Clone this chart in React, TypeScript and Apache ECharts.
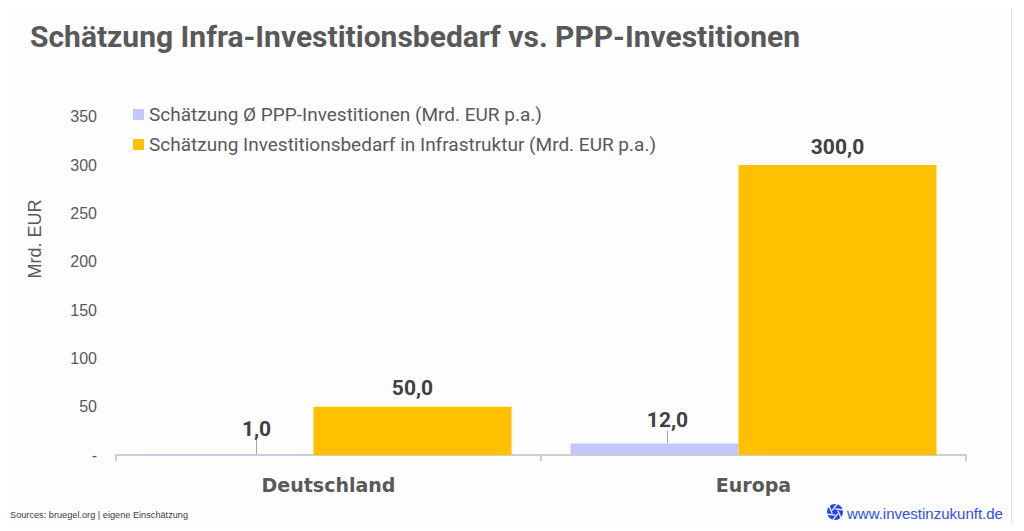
import React, { useEffect, useRef } from "react";
import * as echarts from "echarts";

const categories = ["Deutschland", "Europa"];
const pppValues = [1.0, 12.0];
const bedarfValues = [50.0, 300.0];
const yTicks = [0, 50, 100, 150, 200, 250, 300, 350];
const seriesNames = [
  "Schätzung Ø PPP-Investitionen (Mrd. EUR p.a.)",
  "Schätzung Investitionsbedarf in Infrastruktur (Mrd. EUR p.a.)",
];
const titleText = "Schätzung Infra-Investitionsbedarf vs. PPP-Investitionen";
const yAxisName = "Mrd. EUR";
const sourceText = "Sources: bruegel.org | eigene Einschätzung";
const siteText = "www.investinzukunft.de";

const fmt = (v: number) => v.toFixed(1).replace(".", ",");

// aperture icon path (centered at 0,0, radius 8)
function aperturePath(): string {
  const R = 8;
  const r = 3.2;
  let d = `M ${R} 0 A ${R} ${R} 0 1 1 ${-R} 0 A ${R} ${R} 0 1 1 ${R} 0 Z `;
  for (let i = 0; i < 6; i++) {
    const a = (Math.PI / 3) * i + Math.PI / 6;
    d += `${i === 0 ? "M" : "L"} ${(r * Math.cos(a)).toFixed(2)} ${(r * Math.sin(a)).toFixed(2)} `;
  }
  d += "Z ";
  return d;
}

export default function App() {
  const ref = useRef<HTMLDivElement>(null);
  useEffect(() => {
    if (!ref.current) return;
    try {
      echarts.graphic.registerShape("aperture", echarts.graphic.extendPath(aperturePath(), {}) as any);
    } catch (e) {}
    const chart = echarts.init(ref.current, undefined, { renderer: "svg" });
    const pppOffsets = [
      [27, -10],
      [13, -8],
    ];
    const bladeLines: any[] = [];
    for (let i = 0; i < 6; i++) {
      const a = (Math.PI / 3) * i + Math.PI / 6;
      const a2 = a + Math.PI / 2.4;
      bladeLines.push({
        type: "line",
        shape: {
          x1: 835 + 3.2 * Math.cos(a),
          y1: 512 + 3.2 * Math.sin(a),
          x2: 835 + 8.5 * Math.cos(a2),
          y2: 512 + 8.5 * Math.sin(a2),
        },
        style: { stroke: "#fdfdfd", lineWidth: 1.3 },
        z: 102,
      });
    }
    chart.setOption({
      animation: false,
      backgroundColor: "#ffffff",
      grid: { left: 116, right: 58, top: 116.7, bottom: 76, containLabel: false },
      legend: {
        orient: "vertical",
        left: 128,
        top: 100,
        itemWidth: 11,
        itemHeight: 11,
        itemGap: 11,
        icon: "rect",
        textStyle: { color: "#595959", fontSize: 19, fontFamily: "Roboto", lineHeight: 18 },
        data: seriesNames,
      },
      xAxis: {
        type: "category",
        data: categories,
        axisLine: { show: true, lineStyle: { color: "#bfbfbf", width: 1.5 } },
        axisTick: { show: true, length: 6, lineStyle: { color: "#bfbfbf", width: 1.5 } },
        axisLabel: {
          color: "#595959",
          fontSize: 19,
          fontWeight: "bold",
          fontFamily: "'DejaVu Sans', sans-serif",
          margin: 20,
        },
      },
      yAxis: {
        type: "value",
        min: 0,
        max: 350,
        interval: 50,
        axisLine: { show: false },
        axisTick: { show: false },
        splitLine: { show: false },
        axisLabel: {
          color: "#595959",
          fontSize: 16,
          fontFamily: "'Liberation Sans', Arial, sans-serif",
          margin: 19,
          formatter: (v: number) => (yTicks.includes(v) ? (v === 0 ? "-" : String(v)) : ""),
        },
      },
      series: [
        {
          name: seriesNames[0],
          type: "bar",
          data: pppValues,
          barWidth: 168,
          barGap: "0%",
          itemStyle: { color: "#c3c8fb" },
          label: {
            show: true,
            position: "top",
            formatter: (p: any) => fmt(p.value),
            color: "#404040",
            fontSize: 21,
            fontWeight: "bold",
            fontFamily: "Roboto, sans-serif",
          },
          labelLine: { show: true, lineStyle: { color: "#a6a6a6", width: 1 } },
          labelLayout: (p: any) => ({ dx: pppOffsets[p.dataIndex][0], dy: pppOffsets[p.dataIndex][1] }),
        },
        {
          name: seriesNames[1],
          type: "bar",
          data: bedarfValues,
          barWidth: 198,
          barGap: "0%",
          itemStyle: { color: "#ffc000" },
          label: {
            show: true,
            position: "top",
            distance: 8,
            formatter: (p: any) => fmt(p.value),
            color: "#404040",
            fontSize: 21,
            fontWeight: "bold",
            fontFamily: "Roboto, sans-serif",
          },
        },
      ],
      graphic: [
        {
          type: "rect",
          shape: { x: 1.5, y: 1.5, width: 1010, height: 525 },
          style: { fill: "#fdfdfd", stroke: "#e6e6e6", lineWidth: 1 },
          z: -10,
          silent: true,
        },
        {
          type: "text",
          x: 30,
          y: 21,
          style: {
            text: titleText,
            fill: "#595959",
            font: "bold 30px Roboto, sans-serif",
          },
        },
        {
          type: "text",
          x: 35,
          y: 239,
          rotation: Math.PI / 2,
          style: {
            text: yAxisName,
            fill: "#595959",
            font: "18px 'Liberation Sans', Arial, sans-serif",
            align: "center",
            verticalAlign: "middle",
          },
        },
        {
          type: "text",
          x: 10,
          y: 515,
          style: {
            text: sourceText,
            fill: "#404040",
            font: "9.2px 'Liberation Sans', Arial, sans-serif",
            verticalAlign: "middle",
          },
        },
        {
          type: "aperture",
          x: 835,
          y: 512,
          style: { fill: "#1f45f0" },
          z: 101,
        },
        ...bladeLines,
        {
          type: "text",
          x: 847,
          y: 513,
          style: {
            text: siteText,
            fill: "#2f50f2",
            font: "15px 'Liberation Sans', Arial, sans-serif",
            verticalAlign: "middle",
          },
        },
      ],
    });
    return () => chart.dispose();
  }, []);
  return <div ref={ref} style={{ width: 1024, height: 531, margin: -8 }} />;
}
